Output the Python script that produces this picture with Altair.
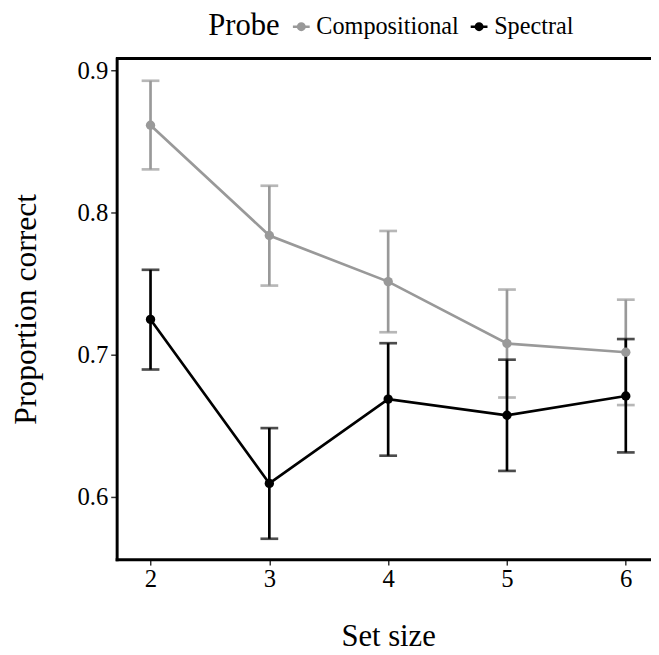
import altair as alt
import pandas as pd

set_sizes = [2, 3, 4, 5, 6]
probes = ["Compositional", "Spectral"]
comp_mean = [0.8613, 0.7838, 0.7514, 0.7079, 0.7017]
comp_lo = [0.8303, 0.7486, 0.7158, 0.6699, 0.6646]
comp_hi = [0.8926, 0.8188, 0.7870, 0.7458, 0.7387]
spec_mean = [0.7248, 0.6095, 0.6688, 0.6574, 0.6710]
spec_lo = [0.6896, 0.5706, 0.6290, 0.6183, 0.6313]
spec_hi = [0.7597, 0.6484, 0.7081, 0.6965, 0.7110]

x_ticks = [2, 3, 4, 5, 6]
y_ticks = [0.6, 0.7, 0.8, 0.9]
colors = ["#999999", "#000000"]

rows = []
for p, means, los, his in [
    ("Compositional", comp_mean, comp_lo, comp_hi),
    ("Spectral", spec_mean, spec_lo, spec_hi),
]:
    for s, m, lo, hi in zip(set_sizes, means, los, his):
        rows.append({"size": s, "probe": p, "mean": m, "lo": lo, "hi": hi})
df = pd.DataFrame(rows)

W, H = 541, 507
FONT = "Liberation Serif"

x_scale = alt.Scale(domain=[1.7149, 6.2121], nice=False, zero=False)
y_scale = alt.Scale(domain=[0.55625, 0.90833], nice=False, zero=False)
color_scale = alt.Scale(domain=probes, range=colors)

x_axis = alt.Axis(
    values=x_ticks, format="d", grid=False,
    labelFontSize=25, labelColor="black", labelPadding=2, labelFont=FONT,
    tickColor="#333333", tickWidth=1.5, tickSize=6,
    domainColor="black", domainWidth=3, domainCap="square",
    title="Set size", titleFontSize=31, titleFontWeight="normal", titleColor="black",
    titleFont=FONT, titleX=274.8, titleY=87, titleBaseline="alphabetic",
)
y_axis = alt.Axis(
    values=y_ticks, format=".1f", grid=False,
    labelFontSize=25, labelColor="black", labelPadding=3, labelFont=FONT,
    tickColor="#333333", tickWidth=1.5, tickSize=6,
    domainColor="black", domainWidth=3, domainCap="square",
    title="Proportion correct", titleFontSize=32, titleFontWeight="normal",
    titleColor="black", titleFont=FONT, titleX=-92.3, titleY=H / 2,
    titleBaseline="middle", titleAngle=-90,
)

sym_path = (
    "M-1,0L1,0"
    "M-0.38,0A0.38,0.38,0,1,1,0.38,0A0.38,0.38,0,1,1,-0.38,0"
    "M-0.24,0A0.24,0.24,0,1,1,0.24,0A0.24,0.24,0,1,1,-0.24,0"
    "M-0.1,0A0.1,0.1,0,1,1,0.1,0A0.1,0.1,0,1,1,-0.1,0"
)

legend = alt.Legend(
    orient="none", legendX=92.7, legendY=-44.5, direction="horizontal",
    title="Probe", titleOrient="left", titleFontSize=31, titleFontWeight="normal",
    titleColor="black", titleFont=FONT, titlePadding=9,
    labelFontSize=24.5, labelColor="black", labelFont=FONT, labelOffset=3,
    columnPadding=6, padding=0,
    symbolType=sym_path, symbolSize=289, symbolStrokeWidth=2.6,
)

X = alt.X("size:Q", scale=x_scale, axis=x_axis)
Y = alt.Y("mean:Q", scale=y_scale, axis=y_axis)

base = alt.Chart(df)

line = base.mark_line(strokeWidth=2.7).encode(
    x=X, y=Y,
    color=alt.Color("probe:N", scale=color_scale, legend=legend),
)

layers = [line]
for p in probes:
    sub = base.transform_filter(alt.datum.probe == p)
    rule = sub.mark_rule(strokeWidth=2.7).encode(
        x=X,
        y=alt.Y("lo:Q", scale=y_scale, axis=y_axis),
        y2="hi:Q",
        color=alt.Color("probe:N", scale=color_scale, legend=None),
    )
    caps = sub.transform_fold(["lo", "hi"], as_=["bound", "val"]).mark_tick(
        orient="horizontal", size=18, thickness=2.7
    ).encode(
        x=X,
        y=alt.Y("val:Q", scale=y_scale, axis=y_axis),
        color=alt.Color("probe:N", scale=color_scale, legend=None),
    )
    layers += [rule, caps]

points = base.mark_circle(size=90, opacity=1).encode(
    x=X, y=Y,
    color=alt.Color("probe:N", scale=color_scale, legend=None),
)
top_border = base.mark_rule(strokeWidth=3, color="black").encode(
    x=alt.value(0), x2=alt.value(W), y=alt.value(0)
)

chart = alt.layer(*layers, points, top_border).properties(
    width=W, height=H,
    padding={"left": 110, "top": 47, "right": 0, "bottom": 93},
    autosize=alt.AutoSizeParams(type="none"),
).configure(font=FONT).configure_view(stroke=None)

chart.save("out.html", embed_options={"renderer": "svg", "actions": False})
